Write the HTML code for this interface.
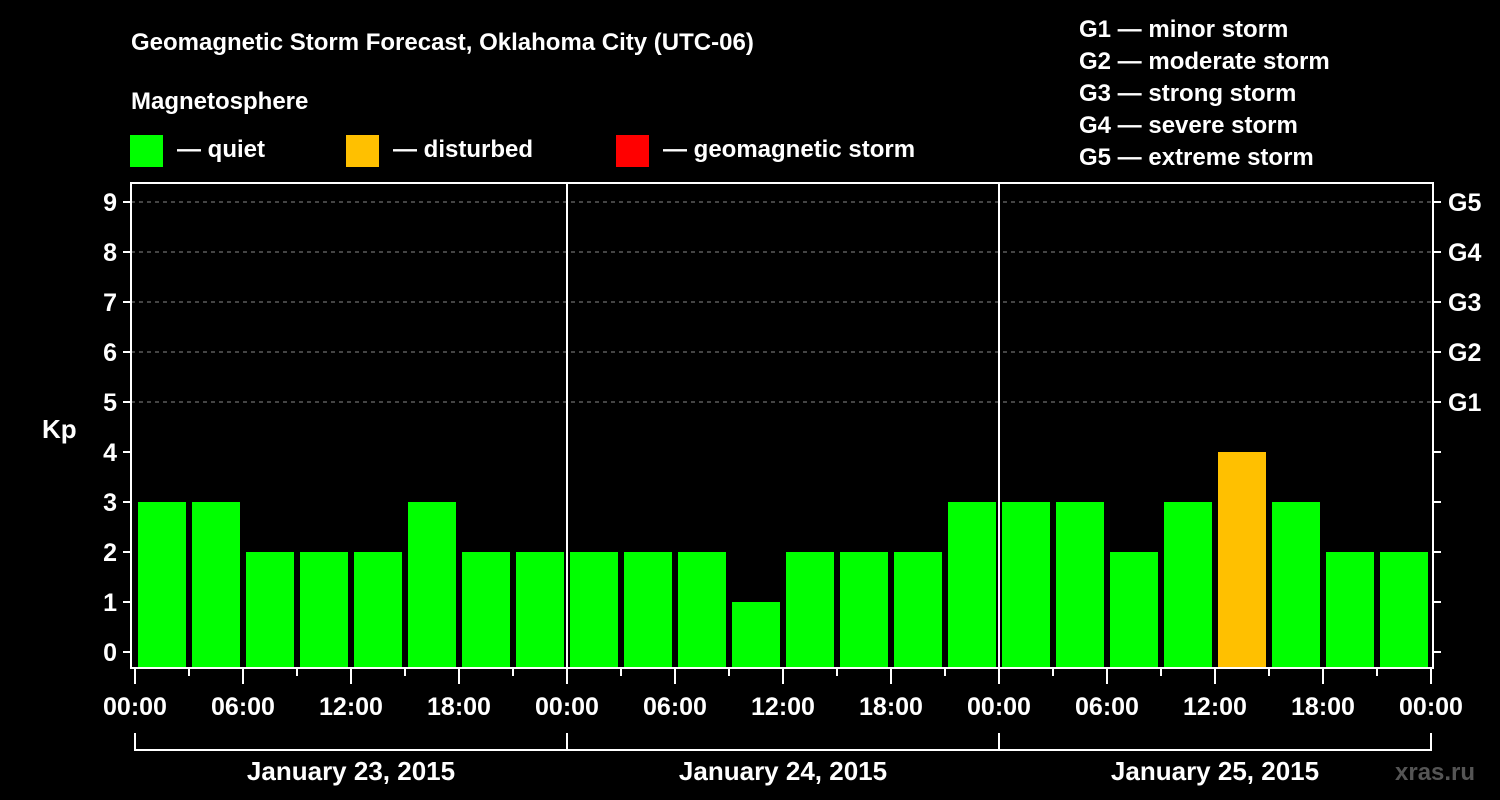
<!DOCTYPE html>
<html><head><meta charset="utf-8"><style>
html,body{margin:0;padding:0;background:#000;width:1500px;height:800px;overflow:hidden}
svg{display:block;font-family:"Liberation Sans",Arial,sans-serif;font-weight:bold;fill:#fff}
</style></head><body>
<svg id="chart" width="1500" height="800">
<text x="131" y="50" font-size="24">Geomagnetic Storm Forecast, Oklahoma City (UTC-06)</text>
<text x="131" y="109" font-size="24">Magnetosphere</text>
<g><rect x="130" y="135" width="33" height="32" fill="#00ff00"/><text x="177" y="157" font-size="24">— quiet</text></g>
<g><rect x="346" y="135" width="33" height="32" fill="#ffc000"/><text x="393" y="157" font-size="24">— disturbed</text></g>
<g><rect x="616" y="135" width="33" height="32" fill="#ff0000"/><text x="663" y="157" font-size="24">— geomagnetic storm</text></g>
<g font-size="24">
<text x="1079" y="37">G1 — minor storm</text>
<text x="1079" y="69">G2 — moderate storm</text>
<text x="1079" y="101">G3 — strong storm</text>
<text x="1079" y="133">G4 — severe storm</text>
<text x="1079" y="165">G5 — extreme storm</text>
</g>
<text x="42" y="438" font-size="26">Kp</text>
<text x="1395" y="780" font-size="24" fill="#555" style="fill:#555">xras.ru</text>
<g id="grid"></g><g id="bars"></g><g id="axes"></g>
</svg>
<script>
const days = ["January 23, 2015","January 24, 2015","January 25, 2015"];
const kpValues = [3,3,2,2,2,3,2,2, 2,2,2,1,2,2,2,3, 3,3,2,3,4,3,2,2];
const hourLabels = ["00:00","06:00","12:00","18:00"];
const gLabels = ["G1","G2","G3","G4","G5"];
const NS="http://www.w3.org/2000/svg";
const X0=135, SLOT=54, Y0=652, UNIT=50, TOP=183, BOT=668, LEFT=131, RIGHT=1433;
const xs=i=>X0+SLOT*i, ys=v=>Y0-UNIT*v;
function mk(tag,attrs,parent){const e=document.createElementNS(NS,tag);for(const k in attrs)e.setAttribute(k,attrs[k]);parent.appendChild(e);return e;}
const grid=document.getElementById('grid'),bars=document.getElementById('bars'),axes=document.getElementById('axes');
for(let v=5;v<=9;v++){const l=mk('line',{x1:LEFT,x2:RIGHT,y1:ys(v),y2:ys(v),stroke:'#888','stroke-dasharray':'4,4','stroke-width':1},grid);

}
kpValues.forEach((v,i)=>{const r=mk('rect',{x:xs(i)+3,y:ys(v),width:SLOT-6,height:BOT-ys(v),fill:v>=5?'#ff0000':(v>=4?'#ffc000':'#00ff00')},bars);

});
mk('path',{d:`M${LEFT},${TOP}V${BOT}H${RIGHT}V${TOP}Z`,fill:'none',stroke:'#fff','stroke-width':2},axes);
for(let d=1;d<days.length;d++){mk('line',{x1:xs(d*8),x2:xs(d*8),y1:TOP,y2:BOT,stroke:'#fff','stroke-width':2},axes);}
for(let v=0;v<=9;v++){
 mk('line',{x1:LEFT-8,x2:LEFT,y1:ys(v),y2:ys(v),stroke:'#fff','stroke-width':2},axes);
 mk('line',{x1:RIGHT,x2:RIGHT+8,y1:ys(v),y2:ys(v),stroke:'#fff','stroke-width':2},axes);
 const t=mk('text',{x:LEFT-14,y:ys(v)+9,'font-size':25,'text-anchor':'end'},axes);t.textContent=v;
 
 
 if(v>=5){const g=mk('text',{x:1448,y:ys(v)+9,'font-size':25},axes);g.textContent=gLabels[v-5];
 
 }
}
for(let i=0;i<=kpValues.length;i++){
 const major=i%2===0;
 mk('line',{x1:xs(i),x2:xs(i),y1:BOT,y2:BOT+(major?16:8),stroke:'#fff','stroke-width':2},axes);
 if(major){const t=mk('text',{x:xs(i),y:715,'font-size':25,'text-anchor':'middle'},axes);t.textContent=hourLabels[(i/2)%4];
 
 }
}
mk('path',{d:`M${xs(0)},733V750H${xs(24)}V733`,fill:'none',stroke:'#fff','stroke-width':2},axes);
days.forEach((d,k)=>{ if(k>0) mk('line',{x1:xs(k*8),x2:xs(k*8),y1:733,y2:750,stroke:'#fff','stroke-width':2},axes);
 const t=mk('text',{x:xs(k*8+4),y:780,'font-size':26,'text-anchor':'middle'},axes);t.textContent=d;
 
 });
</script>
</body></html>
